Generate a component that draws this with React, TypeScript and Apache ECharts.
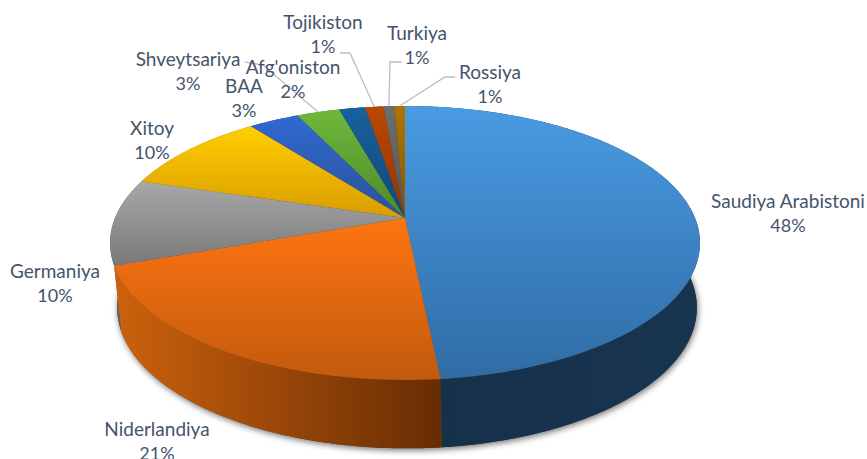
import React, { useEffect, useRef } from "react";
import * as echarts from "echarts";

const categories = ["Saudiya Arabistoni", "Niderlandiya", "Germaniya", "Xitoy", "BAA", "Shveytsariya", "Afg'oniston", "Tojikiston", "Turkiya", "Rossiya"];
const shares = [48.4, 21.1, 10.2, 9.9, 3.3, 2.8, 1.7, 1.2, 0.7, 0.7];
const topFrom = ["#4A9BE3", "#FF7412", "#A8A8A8", "#FFCE00", "#3168D2", "#6EB83B", "#17619F", "#BB4800", "#6E6E6E", "#B07300"];
const topTo = ["#2F6CA5", "#C25A0D", "#787878", "#D89C00", "#2A5299", "#4E892B", "#124875", "#8C3705", "#555555", "#885900"];
const wallFrom = ["#163049", "#CC620C", "#666666", "#7F6000", "#203864", "#385723", "#0E3050", "#60280A", "#333333", "#5A3C00"];
const wallTo = ["#183550", "#672C04", "#555555", "#7F6000", "#203864", "#385723", "#0E3050", "#60280A", "#333333", "#5A3C00"];

// label layout: centre x, first-line y, and optional leader start + elbow
const labelLayout: { x: number; y: number; leader?: number[][] }[] = [
  { x: 788, y: 200 },
  { x: 157, y: 428 },
  { x: 55, y: 270 },
  { x: 152, y: 127 },
  { x: 244, y: 85 },
  { x: 188, y: 58, leader: [[245, 62], [263, 65]] },
  { x: 293, y: 66 },
  { x: 323, y: 21, leader: [[340, 53], [350, 53]] },
  { x: 417, y: 32, leader: [[402, 62], [390, 62]] },
  { x: 490, y: 71, leader: [[455, 77], [445, 77]] },
];

const TOP = { x0: 405, y0: 218, bx: 290, ay: 132.4, k: 0.1825 };
const BASE = { x0: 407, y0: 282, bx: 285, ay: 136, k: 0.1825 };
const NAME_FONT = "19px Lato";
const PCT_FONT = "18px Lato";
const TEXT = "#44546A";
const LEADER = "#B4BFCF";

const total = shares.reduce((a, b) => a + b, 0);
const project = (p: typeof TOP, t: number) => {
  const u = Math.sin(t);
  const v = -Math.cos(t);
  const d = 1 - p.k * v;
  return [p.x0 + (p.bx * u) / d, p.y0 + (p.ay * v) / d];
};
const sliceAngles = (i: number) => {
  const before = shares.slice(0, i).reduce((a, b) => a + b, 0);
  return [(before / total) * Math.PI * 2, ((before + shares[i]) / total) * Math.PI * 2];
};
const arc = (p: typeof TOP, a: number, b: number) => {
  const n = Math.max(2, Math.ceil(Math.abs(b - a) / 0.01));
  const out: number[][] = [];
  for (let j = 0; j <= n; j++) out.push(project(p, a + ((b - a) * j) / n));
  return out;
};
const vertical = (c0: string, c1: string) => ({
  type: "linear", x: 0, y: 0, x2: 0, y2: 1,
  colorStops: [{ offset: 0, color: c0 }, { offset: 1, color: c1 }],
});
const horizontal = (c0: string, c1: string) => ({
  type: "linear", x: 0, y: 0, x2: 1, y2: 0,
  colorStops: [{ offset: 0, color: c0 }, { offset: 1, color: c1 }],
});

const wallOrder = categories.map((_, i) => categories.length - 1 - i);

export default function App() {
  const ref = useRef<HTMLDivElement>(null);
  useEffect(() => {
    document.body.style.margin = "0";
    const chart = echarts.init(ref.current!, undefined, { renderer: "svg" });
    chart.setOption({
      animation: false,
      backgroundColor: "#ffffff",
      tooltip: { show: false },
      series: [
        {
          type: "custom",
          name: "shadow",
          coordinateSystem: "none",
          silent: true,
          z: 1,
          data: [total],
          renderItem: () => ({
            type: "polygon",
            shape: { points: arc(BASE, 0, Math.PI * 2) },
            style: { fill: "#444444", shadowBlur: 6, shadowColor: "rgba(0,0,0,0.55)", shadowOffsetX: 1, shadowOffsetY: 2 },
          }),
        },
        {
          type: "custom",
          name: "walls",
          coordinateSystem: "none",
          silent: true,
          z: 2,
          data: wallOrder,
          renderItem: (params: any) => {
            const i = wallOrder[params.dataIndex];
            const [a, b] = sliceAngles(i);
            const pts = arc(TOP, a, b).concat(arc(BASE, b, a));
            return { type: "polygon", shape: { points: pts }, style: { fill: horizontal(wallFrom[i], wallTo[i]) } };
          },
        },
        {
          type: "custom",
          name: "tops",
          coordinateSystem: "none",
          silent: true,
          z: 3,
          data: shares,
          renderItem: (params: any) => {
            const i = params.dataIndex;
            const [a, b] = sliceAngles(i);
            const pts = [[TOP.x0, TOP.y0]].concat(arc(TOP, a, b));
            return { type: "polygon", shape: { points: pts }, style: { fill: vertical(topFrom[i], topTo[i]) } };
          },
        },
        {
          type: "custom",
          name: "labels",
          coordinateSystem: "none",
          silent: true,
          z: 4,
          data: shares,
          renderItem: (params: any) => {
            const i = params.dataIndex;
            const l = labelLayout[i];
            const [a, b] = sliceAngles(i);
            const children: any[] = [];
            if (l.leader) {
              children.push({
                type: "polyline",
                shape: { points: [...l.leader, project(TOP, (a + b) / 2)] },
                style: { fill: "none", stroke: LEADER, lineWidth: 1.3 },
              });
            }
            const pct = Math.round((shares[i] / total) * 100) + "%";
            children.push(
              { type: "text", x: l.x, y: l.y, style: { text: categories[i], fill: TEXT, font: NAME_FONT, align: "center", verticalAlign: "middle" } },
              { type: "text", x: l.x, y: l.y + 25, style: { text: pct, fill: TEXT, font: PCT_FONT, align: "center", verticalAlign: "middle" } },
            );
            return { type: "group", children };
          },
        },
      ],
    });
    return () => chart.dispose();
  }, []);
  return <div ref={ref} style={{ position: "fixed", left: 0, top: 0, width: 867, height: 459 }} />;
}
